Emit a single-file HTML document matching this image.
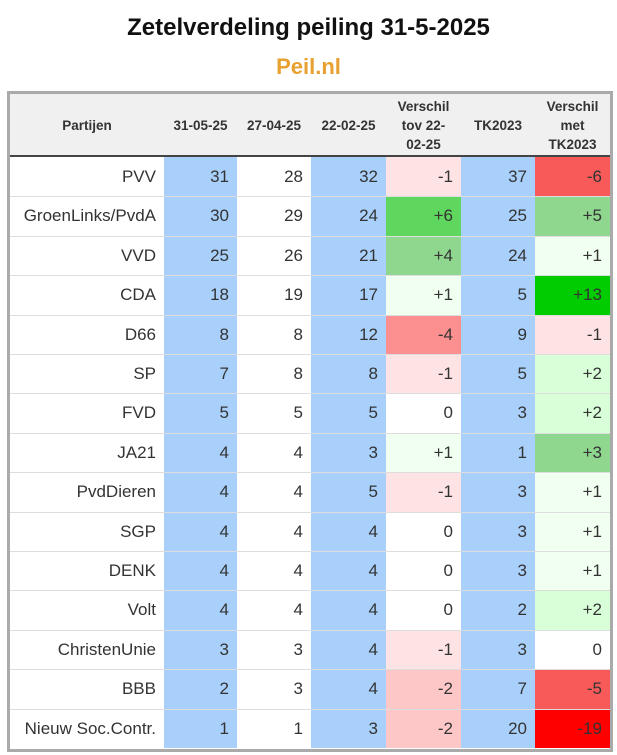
<!DOCTYPE html>
<html><head><meta charset="utf-8"><style>
body{margin:0;width:617px;height:755px;background:#fff;font-family:"Liberation Sans",sans-serif;position:relative;overflow:hidden}
#title{position:absolute;top:14px;left:0;width:617px;text-align:center;font-weight:bold;font-size:24px;color:#111}
#sub{position:absolute;top:54px;left:0;width:617px;text-align:center;font-weight:bold;font-size:22px;color:#e8a030}
#tbl{position:absolute;left:7px;top:91px;width:600px;height:655px;border:3px solid #aaa;background:#fff}
.c{position:absolute;box-sizing:border-box;color:#333;font-size:17px;text-align:right;padding-right:8px}
.h{position:absolute;box-sizing:border-box;font-weight:bold;font-size:13.5px;color:#333;text-align:center;display:flex;align-items:center;justify-content:center;line-height:19px}
.ln{position:absolute;left:0;width:600px;height:1px;background:#ddd}
</style></head><body>
<div id="title">Zetelverdeling peiling 31-5-2025</div>
<div id="sub">Peil.nl</div>
<div id="tbl"></div>
<script>
const parties=["PVV","GroenLinks/PvdA","VVD","CDA","D66","SP","FVD","JA21","PvdDieren","SGP","DENK","Volt","ChristenUnie","BBB","Nieuw Soc.Contr."];
const poll0531=[31,30,25,18,8,7,5,4,4,4,4,4,3,2,1];
const poll0427=[28,29,26,19,8,8,5,4,4,4,4,4,3,3,1];
const poll0222=[32,24,21,17,12,8,5,3,5,4,4,4,4,4,3];
const tk2023=[37,25,24,5,9,5,3,1,3,3,3,2,3,7,20];
const headers=["Partijen","31-05-25","27-04-25","22-02-25","Verschil<br>tov 22-<br>02-25","TK2023","Verschil<br>met<br>TK2023"];
const colX=[0,154,227,301,376,451,525,600];
const T=document.getElementById('tbl');
const hdrH=63,rowH=39.4;
function diffColor(d){
  if(d<=-15)return"#ff0000";if(d<=-5)return"#f85a5a";if(d<=-3)return"#fc8f8f";if(d===-2)return"#fdc7c7";if(d===-1)return"#fde3e3";
  if(d===0)return"#ffffff";if(d===1)return"#f0fff0";if(d===2)return"#d8ffd8";if(d<=5)return"#8fd68f";if(d<=8)return"#5fd75f";return"#00cc00";}
const hb=document.createElement('div');


hb.style.cssText="position:absolute;left:0;top:0;width:600px;height:"+hdrH+"px;background:#f0f0f0;border-bottom:2px solid #444;box-sizing:border-box";
T.appendChild(hb);
headers.forEach((h,i)=>{const d=document.createElement('div');d.className='h';


d.style.left=colX[i]+'px';d.style.width=(colX[i+1]-colX[i])+'px';d.style.top='0px';d.style.height=hdrH+'px';d.innerHTML=h;T.appendChild(d);});
parties.forEach((p,r)=>{
  const y=hdrH+r*rowH;
  const dv=poll0531[r]-poll0222[r],dt=poll0531[r]-tk2023[r];
  const fmt=v=>v>0?"+"+v:""+v;
  const vals=[p,poll0531[r],poll0427[r],poll0222[r],fmt(dv),tk2023[r],fmt(dt)];
  const bgs=["#fff","#a8d0fb","#fff","#a8d0fb",diffColor(dv),"#a8d0fb",diffColor(dt)];
  vals.forEach((v,i)=>{const d=document.createElement('div');d.className='c';
    
    
    d.style.left=colX[i]+'px';d.style.width=(colX[i+1]-colX[i])+'px';d.style.top=y+'px';d.style.height=rowH+'px';
    d.style.lineHeight=rowH+'px';d.style.background=bgs[i];d.textContent=v;T.appendChild(d);});
  if(r>0){const l=document.createElement('div');l.className='ln';
    
    
    l.style.top=y+'px';T.appendChild(l);}
});
</script>
</body></html>
